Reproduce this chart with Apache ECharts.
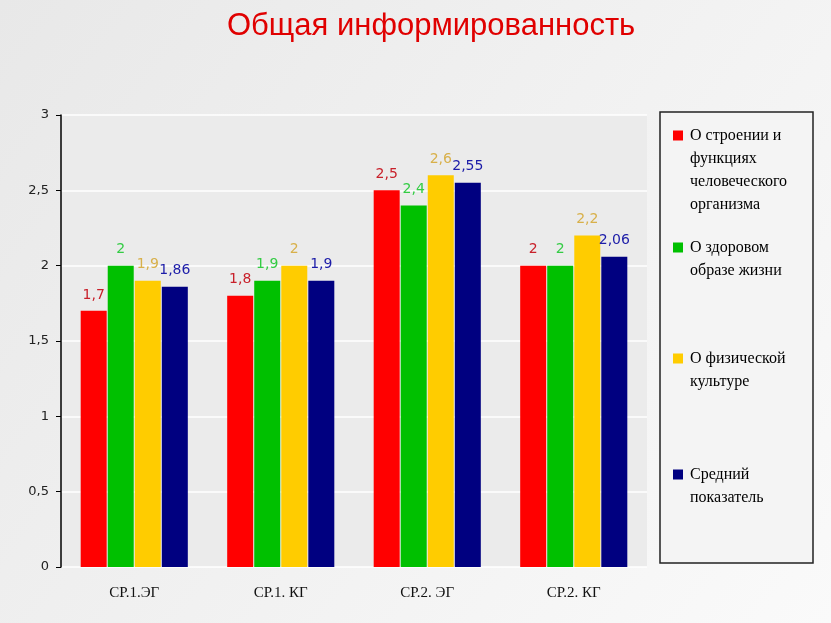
<!DOCTYPE html>
<html>
<head>
	<meta charset="utf-8">
	<title>Общая информированность</title>
	<script src="https://cdn.jsdelivr.net/npm/echarts@6/dist/echarts.min.js"></script>
	<style type="text/css">
		html, body { margin: 0; padding: 0; }
		#main { width: 831px; height: 623px; }
	</style>
</head>
<body>
<div id="main"></div>
<script type="text/javascript">
// categories and values
var categories = ['СР.1.ЭГ', 'СР.1. КГ', 'СР.2. ЭГ', 'СР.2. КГ'];
var seriesNames = [
	'О строении и функциях человеческого организма',
	'О здоровом образе жизни',
	'О физической культуре',
	'Средний показатель'
];
// line breaks for legend text
var legendLines = [
	['О строении и', 'функциях', 'человеческого', 'организма'],
	['О здоровом', 'образе жизни'],
	['О физической', 'культуре'],
	['Средний', 'показатель']
];
var valStructure = [1.7, 1.8, 2.5, 2];
var valHealth = [2, 1.9, 2.4, 2];
var valCulture = [1.9, 2, 2.6, 2.2];
var valAverage = [1.86, 1.9, 2.55, 2.06];
var yTicks = [0, 0.5, 1, 1.5, 2, 2.5, 3];

var barColors = ['#ff0000', '#00c000', '#ffcc00', '#000080'];
var labelColors = ['#c8202a', '#33cc44', '#d8b04a', '#1c1ca8'];
var allValues = [valStructure, valHealth, valCulture, valAverage];

var myChart = echarts.init(document.getElementById('main'));

function comma(v) {
	return String(v).replace('.', ',');
}

var series = [];
for (var i = 0; i < seriesNames.length; i++) {
	series.push({
		name: seriesNames[i],
		type: 'bar',
		data: allValues[i],
		barWidth: 26,
		barGap: '4%',
		itemStyle: { color: barColors[i] },
		label: {
			show: true,
			position: 'top',
			distance: 9,
			color: labelColors[i],
			fontFamily: 'DejaVu Sans',
			fontSize: 14,
			formatter: function (p) { return comma(p.value); }
		}
	});
}

// one legend per item so they can be spaced like the original
var legendTops = [135, 247, 358, 474];
var legends = [];
for (var j = 0; j < seriesNames.length; j++) {
	legends.push({
		data: [seriesNames[j]],
		orient: 'vertical',
		left: 668,
		top: legendTops[j] - 5 - (legendLines[j].length - 1) * 23 - 11,
		itemWidth: 10,
		itemHeight: 10,
		itemGap: 0,
		icon: 'rect',
		selectedMode: false,
		textStyle: {
			fontFamily: 'Liberation Serif',
			fontSize: 16,
			lineHeight: 23,
			color: '#000',
			padding: [0, 0, 0, 2]
		},
		formatter: (function (k) {
			return function () {
				var pad = [];
				for (var m = 1; m < legendLines[k].length; m++) pad.push('');
				return pad.concat(legendLines[k]).join('\n');
			};
		})(j)
	});
}

var option = {
	backgroundColor: {
		type: 'linear', x: 0, y: 0, x2: 1, y2: 1,
		colorStops: [
			{ offset: 0, color: '#e8e8e8' },
			{ offset: 1, color: '#fafafa' }
		]
	},
	title: {
		text: 'Общая информированность',
		left: 222,
		top: 6,
		textStyle: {
			color: '#e00000',
			fontFamily: 'Liberation Sans',
			fontWeight: 'normal',
			fontSize: 31
		}
	},
	graphic: [{
		type: 'rect',
		shape: { x: 660, y: 112, width: 153, height: 451 },
		style: { fill: '#f4f4f4', stroke: '#222', lineWidth: 1.5 },
		z: -1
	}],
	legend: legends,
	grid: {
		left: 61,
		right: 184,
		top: 115,
		bottom: 56,
		show: true,
		backgroundColor: '#ebebeb',
		borderWidth: 0
	},
	xAxis: {
		type: 'category',
		data: categories,
		axisLine: { show: false },
		axisTick: { show: false },
		axisLabel: {
			margin: 19,
			fontFamily: 'Liberation Serif',
			fontSize: 15,
			color: '#111'
		}
	},
	yAxis: {
		type: 'value',
		min: yTicks[0],
		max: yTicks[yTicks.length - 1],
		interval: 0.5,
		axisLine: { show: true, lineStyle: { color: '#000', width: 1.5 } },
		axisTick: { show: true, length: 5, lineStyle: { color: '#000' } },
		splitLine: { show: true, lineStyle: { color: '#ffffff', width: 1.5 } },
		axisLabel: {
			margin: 12,
			fontFamily: 'DejaVu Sans',
			fontSize: 13,
			color: '#222',
			formatter: function (v) { return comma(v); }
		}
	},
	series: series
};
myChart.setOption(option);
</script>
</body>
</html>
